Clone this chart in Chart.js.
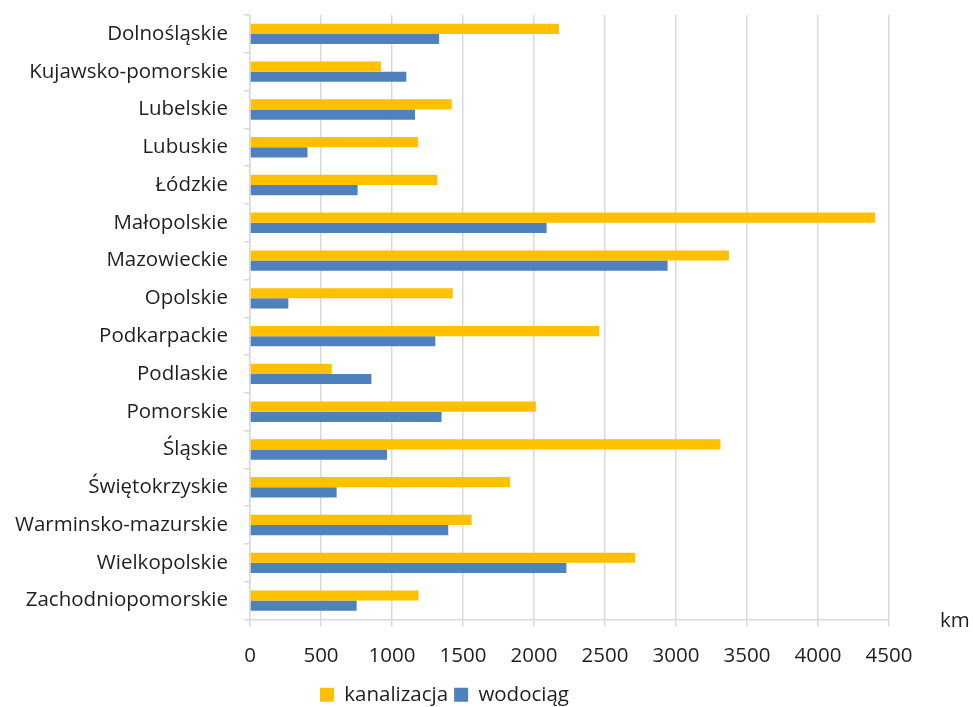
<!DOCTYPE html>
<html>
<head>
<meta charset="utf-8">
<script src="https://cdn.jsdelivr.net/npm/chart.js@4"></script>
<style>
  html, body { margin: 0; padding: 0; background: #fff; }
  #wrap { width: 973px; height: 707px; }
</style>
</head>
<body>
<div id="wrap"><canvas id="chart"></canvas></div>
<script>
const regions = [
  `Dolnośląskie`, `Kujawsko-pomorskie`, `Lubelskie`, `Lubuskie`, `Łódzkie`,
  `Małopolskie`, `Mazowieckie`, `Opolskie`, `Podkarpackie`, `Podlaskie`,
  `Pomorskie`, `Śląskie`, `Świętokrzyskie`, `Warminsko-mazurskie`,
  `Wielkopolskie`, `Zachodniopomorskie`
];
const kanalizacja = [2176, 922, 1421, 1184, 1320, 4403, 3373, 1428, 2460, 576, 2013, 3313, 1832, 1561, 2713, 1187];
const wodociag = [1332, 1101, 1162, 405, 758, 2089, 2941, 270, 1305, 855, 1349, 965, 610, 1396, 2228, 751];
const xTicks = [0, 500, 1000, 1500, 2000, 2500, 3000, 3500, 4000, 4500];

const font = `"Open Sans", Lato, sans-serif`;
const fontSize = 20.5;
const textColor = `#1f1f1f`;
const gridColor = `#d9d9d9`;

// "km" unit label to the right of the x axis
const unitLabel = {
  id: `unitLabel`,
  afterDraw(chart) {
    const ctx = chart.ctx;
    ctx.save();
    ctx.font = `${fontSize}px ${font}`;
    ctx.fillStyle = textColor;
    ctx.textAlign = `left`;
    ctx.textBaseline = `middle`;
    ctx.fillText(`km`, 940, chart.chartArea.bottom + 2);
    ctx.restore();
  }
};

new Chart(document.getElementById(`chart`), {
  type: `bar`,
  data: {
    labels: regions,
    datasets: [
      { label: `kanalizacja`, data: kanalizacja, backgroundColor: `#FFC000` },
      { label: `wodociąg`, data: wodociag, backgroundColor: `#4F81BD` }
    ]
  },
  options: {
    indexAxis: `y`,
    responsive: true,
    maintainAspectRatio: false,
    animation: false,
    categoryPercentage: 0.54,
    barPercentage: 1,
    layout: { padding: { left: 0, right: 84, top: 15, bottom: -8 } },
    scales: {
      x: {
        min: 0,
        max: 4500,
        afterBuildTicks: (scale) => { scale.ticks = xTicks.map(v => ({ value: v })); },
        afterFit: (scale) => { scale.height = 59; },
        grid: { color: gridColor, lineWidth: 1.5, tickLength: 7 },
        border: { color: gridColor, width: 1.5 },
        ticks: {
          color: textColor, font: { family: font, size: fontSize }, padding: 17, maxRotation: 0,
          callback: (v) => String(v)
        }
      },
      y: {
        afterFit: (scale) => {
          scale.width = 250;
          scale.paddingTop = 0;
          scale.paddingBottom = 0;
        },
        grid: { drawOnChartArea: false, color: gridColor, lineWidth: 1.5, tickLength: 6 },
        border: { color: gridColor, width: 1.5 },
        ticks: { color: textColor, font: { family: font, size: fontSize }, padding: 16, autoSkip: false }
      }
    },
    plugins: {
      legend: {
        position: `bottom`,
        labels: { color: textColor, font: { family: font, size: fontSize }, boxWidth: 14, boxHeight: 14, padding: 6 }
      },
      tooltip: { enabled: false }
    }
  },
  plugins: [unitLabel]
});
</script>
</body>
</html>
